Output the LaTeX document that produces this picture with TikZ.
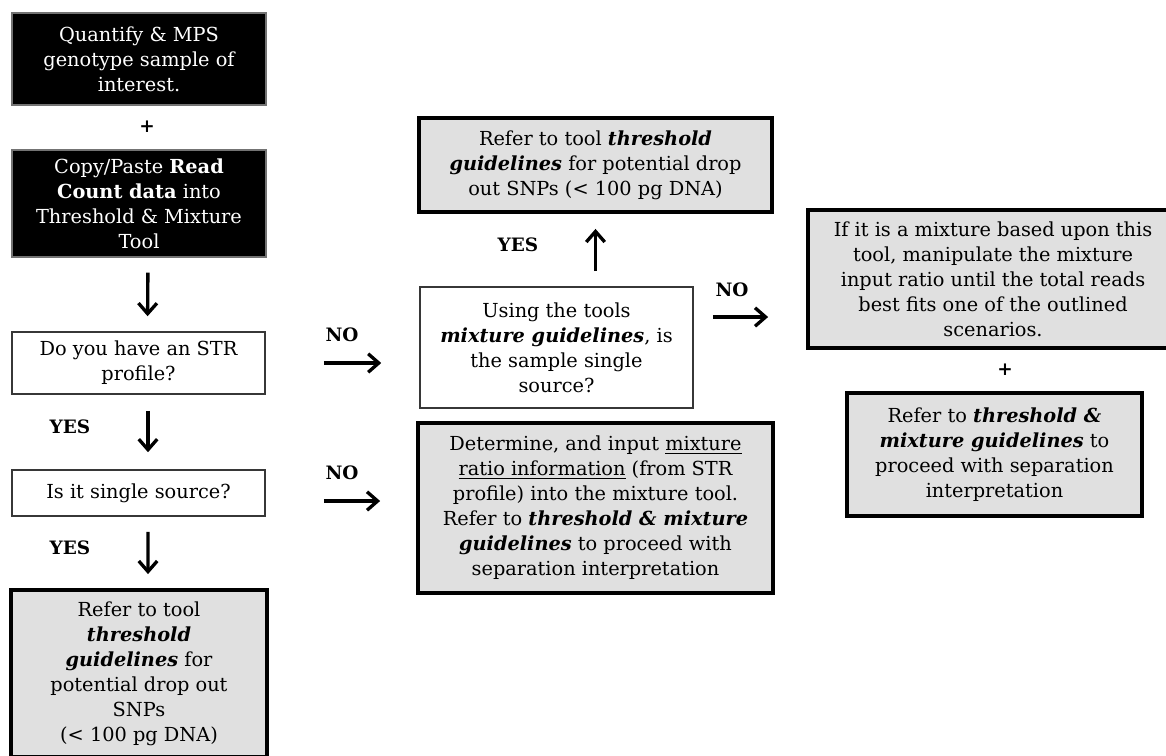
\documentclass[tikz,border=0pt]{standalone}
\usepackage{fontspec}
\setmainfont{DejaVu Serif}
\usetikzlibrary{arrows.meta,calc,positioning}
\definecolor{boxgray}{RGB}{224,224,224}
\definecolor{edgegray}{RGB}{55,55,55}

\begin{document}
\begin{tikzpicture}[x=0.02cm,y=-0.02cm,>={Straight Barb[length=6pt,width=10.5pt]},
 txt/.style={font=\fontsize{11}{14.2}\selectfont,align=center,inner sep=0pt},
 darkbox/.style={txt,fill=black,draw=black!55,line width=.6pt,text=white},
 askbox/.style={txt,fill=white,draw=edgegray,line width=.9pt},
 notebox/.style={txt,fill=boxgray,draw=black,line width=2.2pt},
 answer/.style={font=\fontsize{10.5}{12}\selectfont\bfseries,inner sep=0pt},
 flow/.style={->,line width=1.9pt}]
\useasboundingbox (0,0) rectangle (1166,755);
% left column
\node[darkbox,minimum width=5.08cm,minimum height=1.84cm] (quant) at (139,59)
 {Quantify \& MPS\\genotype sample of\\interest.};
\node[answer] (plusa) at (147,127) {+};
\node[darkbox,minimum width=5.08cm,minimum height=2.14cm] (paste) at (139,203.5)
 {Copy/Paste \textbf{Read}\\\textbf{Count data} into\\Threshold \& Mixture\\Tool};
\node[askbox,minimum width=5.06cm,minimum height=1.24cm] (strq) at (138.5,363)
 {Do you have an STR\\profile?};
\node[askbox,minimum width=5.06cm,minimum height=0.92cm] (ssq) at (138.5,493)
 {Is it single source?};
\node[notebox,minimum width=5.12cm,minimum height=3.34cm] (thrl) at (139,673.5)
 {Refer to tool\\\textbf{\textit{threshold}}\\\textbf{\textit{guidelines}} for\\potential drop out\\SNPs\\(< 100 pg DNA)};
% middle column
\node[notebox,minimum width=7.06cm,minimum height=1.88cm] (thrm) at (595.5,165)
 {Refer to tool \textbf{\textit{threshold}}\\\textbf{\textit{guidelines}} for potential drop\\out SNPs (< 100 pg DNA)};
\node[askbox,minimum width=5.46cm,minimum height=2.42cm] (mixq) at (556.5,347.5)
 {Using the tools\\\textbf{\textit{mixture guidelines}}, is\\the sample single\\source?};
\node[notebox,minimum width=7.10cm,minimum height=3.40cm] (mixb) at (595.5,508)
 {Determine, and input \underline{mixture}\\\underline{ratio information} (from STR\\profile) into the mixture tool.\\Refer to \textbf{\textit{threshold \& mixture}}\\\textbf{\textit{guidelines}} to proceed with\\separation interpretation};
% right column
\node[notebox,minimum width=7.40cm,minimum height=2.76cm] (mixr) at (993,279)
 {If it is a mixture based upon this\\tool, manipulate the mixture\\input ratio until the total reads\\best fits one of the outlined\\scenarios.};
\node[answer] (plusb) at (1005,370) {+};
\node[notebox,minimum width=5.90cm,minimum height=2.46cm] (mixsep) at (994.5,454.5)
 {Refer to \textbf{\textit{threshold \&}}\\\textbf{\textit{mixture guidelines}} to\\proceed with separation\\interpretation};
% answers
\node[answer] (yesa) at (70,427) {YES};
\node[answer] (yesb) at (70,548) {YES};
\node[answer] (yesc) at (518,245) {YES};
\node[answer] (noa) at (342,335) {NO};
\node[answer] (nob) at (342,473) {NO};
\node[answer] (noc) at (732,290) {NO};
% arrows
\draw[flow,shorten <=0.3cm,shorten >=0.3cm] ([xshift=0.18cm]paste.south) -- ([xshift=0.18cm]strq.north);
\draw[flow,shorten <=0.32cm,shorten >=0.34cm] ([xshift=0.19cm]strq.south) -- ([xshift=0.19cm]ssq.north);
\draw[flow,shorten <=0.3cm,shorten >=0.28cm] ([xshift=0.19cm]ssq.south) -- ([xshift=0.18cm]thrl.north);
\draw[flow,shorten <=1.16cm,shorten >=0.76cm] (strq.east) -- (strq.east -| mixq.west);
\draw[flow,shorten <=1.16cm,shorten >=0.72cm] ([yshift=-0.16cm]ssq.east) -- ([yshift=-0.16cm]ssq.east -| mixb.west);
\draw[flow,shorten <=0.3cm,shorten >=0.3cm] (mixq.north -| thrm.south) -- (thrm.south);
\draw[flow,shorten <=0.38cm,shorten >=0.76cm] ([yshift=0.61cm]mixq.east) -- ([yshift=0.61cm]mixq.east -| mixr.west);
\end{tikzpicture}
\end{document}
